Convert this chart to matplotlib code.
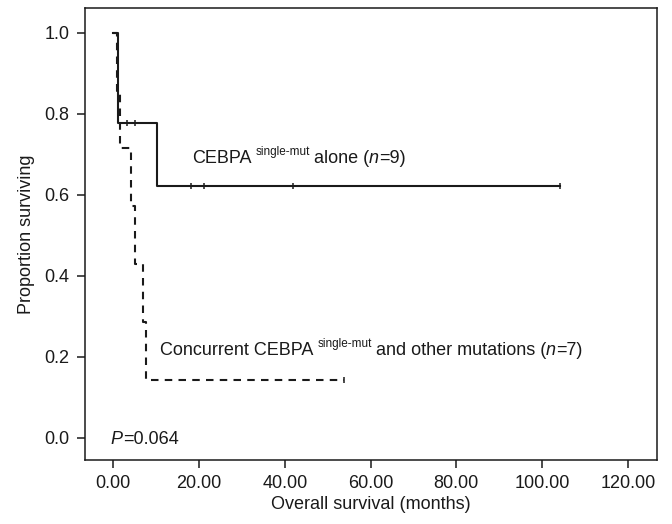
import matplotlib
matplotlib.use("Agg")
import matplotlib.pyplot as plt
import numpy as np

plt.rcParams['font.family'] = ['Liberation Sans', 'DejaVu Sans']

# Kaplan-Meier step data (time in months, survival proportion)
solid_times = [0.0, 1.0, 10.1, 104.2]
solid_surv = [1.0, 0.778, 0.622, 0.622]
solid_censor_t = [3.1, 5.1, 18.1, 21.2, 42.0, 104.2]
solid_censor_s = [0.778, 0.778, 0.622, 0.622, 0.622, 0.622]

dash_times = [0.0, 0.9, 1.5, 4.05, 5.06, 7.0, 7.55, 53.7]
dash_surv = [1.0, 0.857, 0.714, 0.571, 0.429, 0.286, 0.143, 0.143]
dash_censor_t = [53.7]
dash_censor_s = [0.143]

xticks = [0, 20, 40, 60, 80, 100, 120]
xticklabels = ["0.00", "20.00", "40.00", "60.00", "80.00", "100.00", "120.00"]
yticks = [0.0, 0.2, 0.4, 0.6, 0.8, 1.0]
yticklabels = ["0.0", "0.2", "0.4", "0.6", "0.8", "1.0"]

C = "#1a1a1a"
FS = 13
fig = plt.figure(figsize=(6.72, 5.24), dpi=100)
ax = fig.add_axes([85/672, 1-460/524, (657-85)/672, (460-8.3)/524])

ax.step(solid_times, solid_surv, where='post', color=C, lw=1.5)
ax.plot(solid_censor_t, solid_censor_s, ls='none', marker='|', ms=5, mew=1.1, color=C)
ax.step(dash_times, dash_surv, where='post', color=C, lw=1.5, ls=(0, (3.6, 3.0)))
ax.plot(dash_censor_t, dash_censor_s, ls='none', marker='|', ms=5, mew=1.1, color=C)

ax.set_xlim(-6.6, 126.8)
ax.set_ylim(-0.055, 1.06)
ax.set_xticks(xticks)
ax.set_xticklabels(xticklabels)
ax.set_yticks(yticks)
ax.set_yticklabels(yticklabels)
ax.tick_params(axis='both', labelsize=FS, colors=C, width=1.1, length=6, pad=5)
for s in ax.spines.values():
    s.set_color(C)
    s.set_linewidth(1.1)

ax.set_xlabel("Overall survival (months)", fontsize=FS, color=C, labelpad=3)
ax.set_ylabel("Proportion surviving", fontsize=FS, color=C, labelpad=7)

fig.canvas.draw()
renderer = fig.canvas.get_renderer()

def rich(x, y, pieces):
    # pieces: list of (text, size, style, rise_px, gap_px)
    disp = ax.transData.transform((x, y))
    cx = disp[0]
    for txt, size, style, rise, gap in pieces:
        cx += gap
        t = fig.text(cx / fig.dpi / fig.get_figwidth(), (disp[1] + rise) / fig.dpi / fig.get_figheight(),
                     txt, fontsize=size, style=style, color=C, va='baseline', ha='left')
        bb = t.get_window_extent(renderer)
        cx = bb.x1

rich(18.3, 0.678, [("CEBPA", FS, 'normal', 0, 0),
                   ("single-mut", 8.5, 'normal', 8, 4),
                   ("alone (", FS, 'normal', 0, 4),
                   ("n", FS, 'italic', 0, 0),
                   ("=9)", FS, 'normal', 0, 0)])
rich(10.9, 0.204, [("Concurrent CEBPA", FS, 'normal', 0, 0),
                   ("single-mut", 8.5, 'normal', 8, 4),
                   ("and other mutations (", FS, 'normal', 0, 4),
                   ("n", FS, 'italic', 0, 0),
                   ("=7)", FS, 'normal', 0, 0)])
rich(-0.6, -0.015, [("P", FS, 'italic', 0, 0),
                    ("=0.064", FS, 'normal', 0, 0)])

fig.savefig("out.png", dpi=100)
